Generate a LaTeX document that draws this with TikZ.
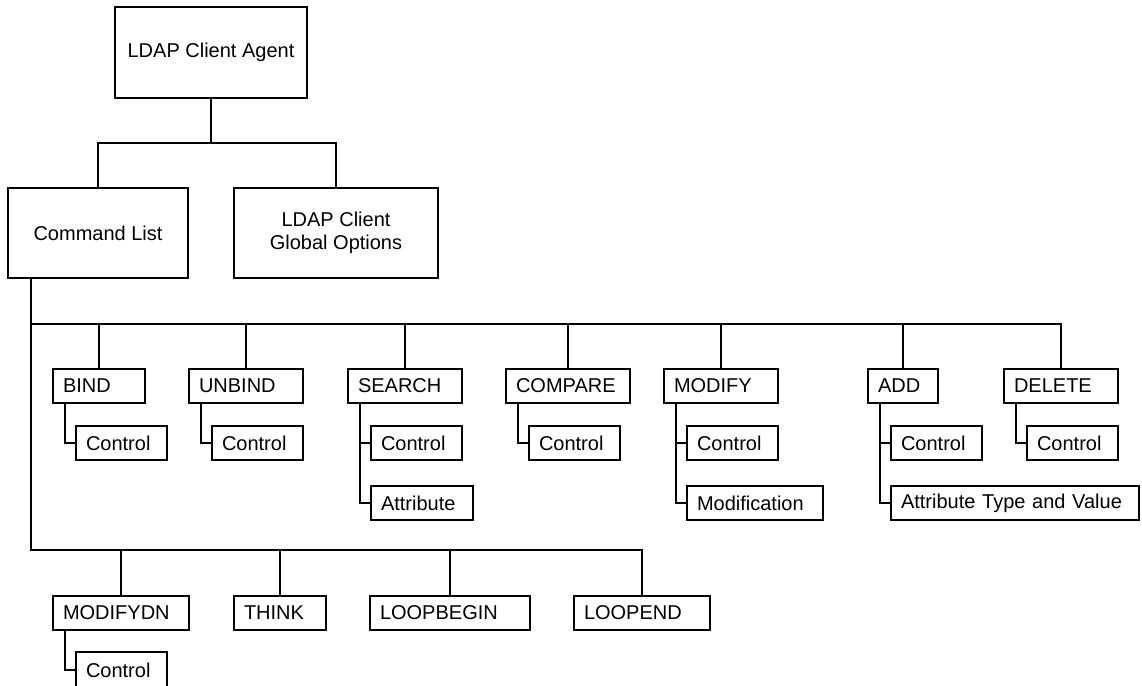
\documentclass[tikz,border=0pt]{standalone}
\usepackage{fontspec}
\setmainfont{Liberation Sans}
\usetikzlibrary{positioning}

\begin{document}
\begin{tikzpicture}[x=1pt,y=-1pt,line width=2pt,font=\fontsize{20}{23}\selectfont]
\tikzstyle{big}=[draw,align=center,inner sep=0pt,outer sep=0pt]
\tikzstyle{cmd}=[draw,anchor=north west,minimum height=34pt,inner xsep=10pt,inner ysep=0pt,outer sep=0pt,align=left]
\useasboundingbox (0,0) rectangle (1142,685);
% top level
\node[big,minimum width=192pt,minimum height=91pt] (agent) at (211,52.5) {LDAP Client Agent};
\node[big,minimum width=180pt,minimum height=90pt] (cmdlist) at (98,233) {Command List};
\node[big,minimum width=204pt,minimum height=90pt] (glob) at (336,233) {LDAP Client\\Global Options};
% commands
\node[cmd,text width=72pt] (bind) at (53,369) {BIND};
\node[cmd,text width=94pt] (unbind) at (189,369) {UNBIND};
\node[cmd,text width=94pt] (search) at (348,369) {SEARCH};
\node[cmd,text width=104pt] (compare) at (506,369) {COMPARE};
\node[cmd,text width=94pt] (modify) at (664,369) {MODIFY};
\node[cmd,text width=50pt] (add) at (868,369) {ADD};
\node[cmd,text width=94pt] (delete) at (1004,369) {DELETE};
\node[cmd,text width=71pt] (bindctl) at (76,426) {Control};
\node[cmd,text width=71pt] (unbindctl) at (212,426) {Control};
\node[cmd,text width=71pt] (searchctl) at (371,426) {Control};
\node[cmd,text width=71pt] (comparectl) at (529,426) {Control};
\node[cmd,text width=71pt] (modifyctl) at (687,426) {Control};
\node[cmd,text width=71pt] (addctl) at (891,426) {Control};
\node[cmd,text width=71pt] (deletectl) at (1027,426) {Control};
\node[cmd,text width=82pt] (searchattr) at (371,486) {Attribute};
\node[cmd,text width=116pt] (modifymod) at (687,486) {Modification};
\node[cmd,text width=228pt] (addattr) at (891,486) {Attribute Type and Value};
\node[cmd,text width=116pt] (modifydn) at (53,596) {MODIFYDN};
\node[cmd,text width=72pt] (think) at (234,596) {THINK};
\node[cmd,text width=140pt] (loopbegin) at (370,596) {LOOPBEGIN};
\node[cmd,text width=116pt] (loopend) at (574,596) {LOOPEND};
\node[cmd,text width=71pt,minimum height=36pt] (modifydnctl) at (76,652) {Control};
% connectors
\coordinate (j0) at (211,143);
\coordinate (t1) at (31,324);
\coordinate (t2) at (31,550);
\draw (agent) -- (j0);
\draw (cmdlist) |- (j0) -| (glob);
\draw (cmdlist.south -| t1) -- (t2) -| (loopend);
\draw (t1) -| (delete);
\foreach \n in {bind,unbind,search,compare,modify,add}
  \draw (\n) -- (\n |- t1);
\foreach \n in {modifydn,think,loopbegin}
  \draw (\n) -- (\n |- t2);
\foreach \p/\c in {bind/bindctl,unbind/unbindctl,search/searchctl,search/searchattr,compare/comparectl,modify/modifyctl,modify/modifymod,add/addctl,add/addattr,delete/deletectl,modifydn/modifydnctl}
  \draw ([xshift=12pt]\p.south west) |- (\c);
\end{tikzpicture}
\end{document}
